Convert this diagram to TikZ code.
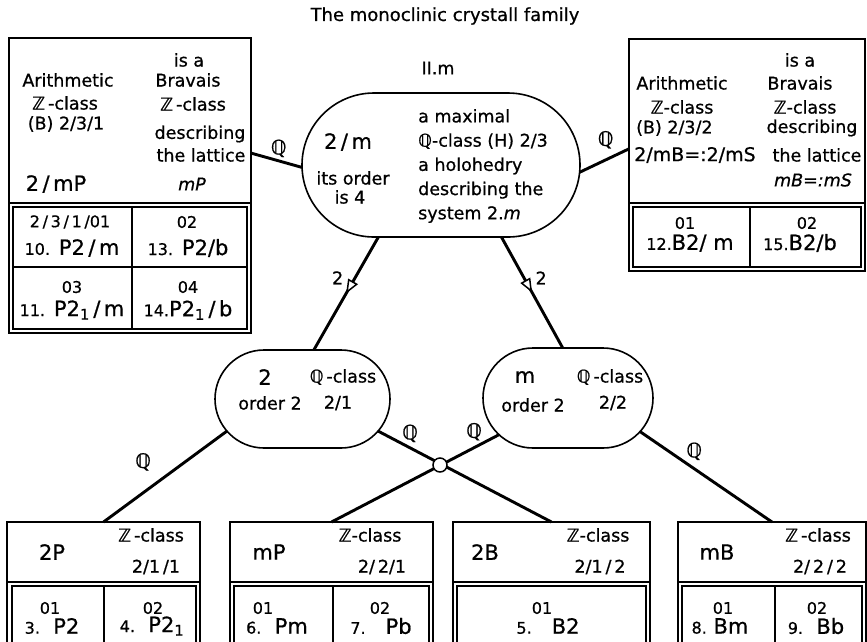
\documentclass[tikz,border=0pt]{standalone}
\usepackage{fontspec}
\setmainfont{DejaVu Sans}[FakeBold=0.7]
\usetikzlibrary{shapes.misc,arrows.meta,decorations.markings}
\newcommand\nsm[1]{{\fontsize{16}{18}\selectfont #1}}
\begin{document}
\begin{tikzpicture}[x=1pt,y=-1pt,
  boxframe/.style={draw, line width=1.5pt, inner sep=0pt, outer sep=0pt},
  ovalnode/.style={draw, line width=1.6pt, rounded rectangle, inner sep=0pt, outer sep=0pt},
  conn/.style={line width=2.9pt},
  midarrow/.style={postaction={decorate}, decoration={markings, mark=at position 0.5 with {\arrow{Triangle[length=14pt,width=11pt,line width=1.5pt,fill=white]}}}},
  lbl/.style={inner sep=0pt, font=\fontsize{17.5}{20}\selectfont},
  lblbig/.style={inner sep=0pt, font=\fontsize{21}{24}\selectfont},
  lblsmall/.style={inner sep=0pt, font=\fontsize{16}{18}\selectfont},
  qlab/.style={inner sep=0pt, font=\fontsize{20}{22}\selectfont},
  divider/.style={line width=1.5pt}
]
\useasboundingbox (0,0) rectangle (867,641);
\clip (0,0) rectangle (867,641);
\fill[white] (0,0) rectangle (867,641);

% title
\node[lbl, font=\fontsize{18}{20}\selectfont] (title) at (445,16) {The monoclinic crystall family};
\node[lbl] (sys) at (438,68) {II.m};

% ---------- left top box
\node[boxframe, minimum width=242pt, minimum height=295pt] (lb) at (130,185.5) {};
\draw[divider] (9,203) -- (251,203);
\draw[divider] (13,207) rectangle (247,329);
\draw[divider] (132,207) -- (132,329);
\draw[divider] (13,267) -- (247,267);
\node[lbl] (la1) at (68,80) {Arithmetic};
\node[lbl] (la2) at (65,103) {ℤ\,-class};
\node[lbl] (la3) at (66,124) {(B) 2/3/1};
\node[lblbig] (la4) at (56,184) {2\,/\,mP};
\node[lbl] (lb1) at (189,60) {is a};
\node[lbl] (lb2) at (188,80) {Bravais};
\node[lbl] (lb3) at (193,104) {ℤ\,-class};
\node[lbl] (lb4) at (200,134) {describing};
\node[lbl] (lb5) at (201,155) {the lattice};
\node[lbl] (lb6) at (192,184) {\itshape mP};
\node[lblsmall] (lc1) at (70,222) {2\,/\,3\,/\,1\,/01};
\node[lblbig] (lc2) at (72,248) {\nsm{10.} P2\,/\,m};
\node[lblsmall] (lc3) at (187,222) {02};
\node[lblbig] (lc4) at (188,248) {\nsm{13.} P2/b};
\node[lblsmall] (lc5) at (72,287) {03};
\node[lblbig] (lc6) at (72,310) {\nsm{11.} P2\textsubscript{1}\,/\,m};
\node[lblsmall] (lc7) at (188,287) {04};
\node[lblbig] (lc8) at (188,310) {\nsm{14.}P2\textsubscript{1}\,/\,b};

% ---------- right top box
\node[boxframe, minimum width=236pt, minimum height=232pt] (rb) at (747,155) {};
\draw[divider] (629,203) -- (865,203);
\draw[divider] (633,207) rectangle (861,267);
\draw[divider] (750,207) -- (750,267);
\node[lbl] (ra0) at (800,60) {is a};
\node[lbl] (ra1) at (682,83) {Arithmetic};
\node[lbl] (ra2) at (800,83) {Bravais};
\node[lbl] (ra3) at (682,107) {ℤ-class};
\node[lbl] (ra4) at (805,107) {ℤ-class};
\node[lbl, anchor=west] (ra5) at (636,128) {(B) 2/3/2};
\node[lbl] (ra6) at (812,128) {describing};
\node[lblbig, font=\fontsize{19}{22}\selectfont] (ra7) at (695,155) {2/mB=:2/mS};
\node[lbl] (ra8) at (817,155) {the lattice};
\node[lbl] (ra9) at (813,180) {\itshape mB=:mS};
\node[lblsmall] (rc1) at (685,223) {01};
\node[lblbig] (rc2) at (690,243) {\nsm{12.}B2/ m};
\node[lblsmall] (rc3) at (807,223) {02};
\node[lblbig] (rc4) at (800,243) {\nsm{15.}B2/b};

% ---------- central stadium
\node[ovalnode, minimum width=278pt, minimum height=144pt] (cs) at (441,165) {};
\node[lblbig] (c1) at (348,142) {2\,/\,m};
\node[lbl] (c2) at (353,178) {its order};
\node[lbl] (c3) at (350,197) {is 4};
\node[lbl, align=left, anchor=west, font=\fontsize{17.5}{24.2}\selectfont] (c4) at (418,166) {a maximal\\ℚ-class (H) 2/3\\a holohedry\\describing the\\system 2.\textit{m}};

% ---------- ovals
\node[ovalnode, minimum width=175pt, minimum height=98pt] (o2) at (302.5,399) {};
\node[lblbig] (d1) at (265,377) {2};
\node[lbl] (d2) at (343,377) {ℚ\,-class};
\node[lbl] (d3) at (270,403) {order 2};
\node[lbl] (d4) at (338,403) {2/1};
\node[ovalnode, minimum width=170pt, minimum height=100pt] (om) at (568,398) {};
\node[lblbig] (e1) at (525,377) {m};
\node[lbl] (e2) at (610,377) {ℚ\,-class};
\node[lbl] (e3) at (533,405) {order 2};
\node[lbl] (e4) at (613,403) {2/2};

% ---------- bottom boxes
\node[boxframe, minimum width=193pt, minimum height=128pt] (p2) at (103.5,586) {};
\draw[divider] (7,582) -- (200,582);
\draw[divider] (12,586) rectangle (196,650);
\draw[divider] (104,586) -- (104,650);
\node[lblbig] (f1) at (52,552) {2P};
\node[lbl] (f2) at (151,535) {ℤ\,-class};
\node[lbl] (f3) at (156,567) {2/1\,/1};
\node[lblsmall] (f4) at (50,608) {01};
\node[lblbig] (f5) at (52,626) {\nsm{3.}\ \ P2};
\node[lblsmall] (f6) at (153,608) {02};
\node[lblbig] (f7) at (152,626) {\nsm{4.}\ \ P2\textsubscript{1}};

\node[boxframe, minimum width=203pt, minimum height=128pt] (mp) at (331.5,586) {};
\draw[divider] (230,582) -- (433,582);
\draw[divider] (234,586) rectangle (429,650);
\draw[divider] (333,586) -- (333,650);
\node[lblbig] (g1) at (269,552) {mP};
\node[lbl] (g2) at (370,535) {ℤ-class};
\node[lbl] (g3) at (382,567) {2/\,2/1};
\node[lblsmall] (g4) at (263,608) {01};
\node[lblbig] (g5) at (277,626) {\nsm{6.}\ \ Pm};
\node[lblsmall] (g6) at (380,608) {02};
\node[lblbig] (g7) at (381,626) {\nsm{7.}\ \ \ Pb};

\node[boxframe, minimum width=197pt, minimum height=128pt] (b2) at (551.5,586) {};
\draw[divider] (453,582) -- (650,582);
\draw[divider] (457,586) rectangle (646,650);
\node[lblbig] (h1) at (485,552) {2B};
\node[lbl] (h2) at (598,535) {ℤ-class};
\node[lbl] (h3) at (600,567) {2/1\,/\,2};
\node[lblsmall] (h4) at (542,608) {01};
\node[lblbig] (h5) at (548,626) {\nsm{5.}\ \ \ B2};

\node[boxframe, minimum width=188pt, minimum height=128pt] (mb) at (772,586) {};
\draw[divider] (678,582) -- (866,582);
\draw[divider] (682,586) rectangle (862,650);
\draw[divider] (775,586) -- (775,650);
\node[lblbig] (k1) at (717,552) {mB};
\node[lbl] (k2) at (818,535) {ℤ\,-class};
\node[lbl] (k3) at (820,567) {2/\,2\,/\,2};
\node[lblsmall] (k4) at (723,608) {01};
\node[lblbig] (k5) at (720,626) {\nsm{8.}\ Bm};
\node[lblsmall] (k6) at (817,608) {02};
\node[lblbig] (k7) at (816,626) {\nsm{9.}\ \ Bb};

% ---------- connectors
\draw[conn] (cs.181) -- node[qlab, pos=0.53, xshift=3.7pt, yshift=11.5pt] (q1) {ℚ} (lb.15.5);
\draw[conn] (cs.-3) -- node[qlab, pos=0.62, xshift=-4.6pt, yshift=18pt] (q2) {ℚ} (rb.177.6);
\draw[conn, midarrow] (cs.229.7) -- node[lbl, pos=0.43, xshift=-13pt, yshift=7.8pt] (n1) {2} (o2.77.9);
\draw[conn, midarrow] (cs.-50.7) -- node[lbl, pos=0.435, xshift=13pt, yshift=7.3pt] (n2) {2} (om.96.8);
\draw[conn] (o2.203.6) -- node[qlab, pos=0.56, xshift=-14.7pt, yshift=20.2pt] (q3) {ℚ} (p2.north);
\draw[conn] (o2.-23.9) -- node[qlab, pos=0.15, xshift=6pt, yshift=11.4pt] (q4) {ℚ} (b2.north);
\draw[conn] (om.208.1) -- node[qlab, pos=0.11, xshift=-6.5pt, yshift=12.6pt] (q5) {ℚ} (mp.north);
\draw[conn] (om.-25) -- node[qlab, pos=0.35, xshift=8pt, yshift=12pt] (q6) {ℚ} (mb.north);
\node[draw, circle, fill=white, line width=1.5pt, minimum size=14pt, inner sep=0pt] (cross) at (440,465) {};
\end{tikzpicture}
\end{document}
